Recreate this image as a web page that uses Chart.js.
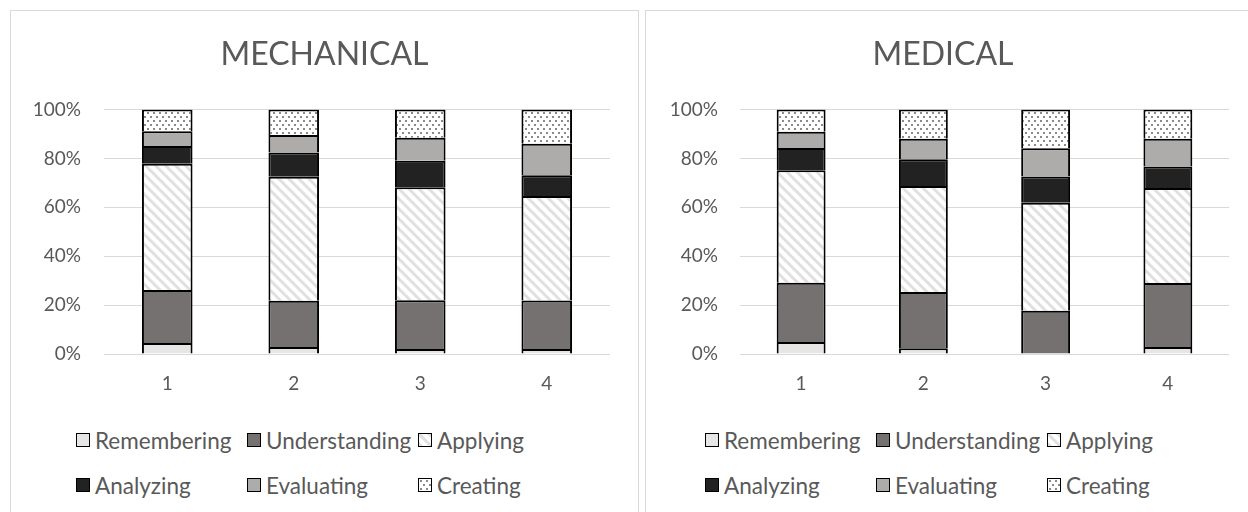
<!DOCTYPE html>
<html><head><meta charset="utf-8">
<script src="https://cdn.jsdelivr.net/npm/chart.js@4.4.1/dist/chart.umd.min.js"></script>
<style>
html,body{margin:0;padding:0;background:#fff;overflow:hidden;width:1248px;height:512px;}
.panel{position:absolute;border:1px solid #d9d9d9;box-sizing:border-box;}
canvas.c{position:absolute;}
.title{position:absolute;top:33px;height:40px;line-height:40px;text-align:center;font-family:Lato,sans-serif;font-size:32px;color:#595959;white-space:nowrap;}
.item{position:absolute;display:flex;align-items:center;white-space:nowrap;font-family:Lato,sans-serif;font-size:22.5px;color:#595959;height:28px;}
.box{width:12px;height:12px;border:1.5px solid #000;margin-right:5px;flex:none;}
</style>
</head><body>
<div class="panel" style="left:10px;top:10px;width:629px;height:530px;"></div>
<div class="panel" style="left:645px;top:10px;width:640px;height:530px;"></div>
<canvas id="c1" class="c" width="627" height="394" style="left:11px;top:11px;"></canvas>
<canvas id="c2" class="c" width="602" height="394" style="left:646px;top:11px;"></canvas>
<div class="title" style="left:11px;width:627px;">MECHANICAL</div>
<div class="title" style="left:646px;width:594px;">MEDICAL</div>
<div id="legends"></div>
<script>
const categories = ['1','2','3','4'];
const seriesNames = ['Remembering','Understanding','Applying','Analyzing','Evaluating','Creating'];
const yTicks = [0,20,40,60,80,100];

// MECHANICAL (percent per category)
const mechRemembering   = [4.5, 2.9, 2.0, 2.0];
const mechUnderstanding = [21.7, 18.9, 20.0, 19.9];
const mechApplying      = [51.6, 50.7, 46.2, 42.7];
const mechAnalyzing     = [7.3, 9.9, 10.8, 8.5];
const mechEvaluating    = [6.0, 7.2, 9.4, 12.9];
const mechCreating      = [8.9, 10.4, 11.6, 14.0];

// MEDICAL (percent per category)
const medRemembering    = [4.9, 2.4, 0.0, 2.9];
const medUnderstanding  = [24.2, 23.0, 17.7, 26.1];
const medApplying       = [46.1, 43.3, 44.2, 38.9];
const medAnalyzing      = [9.1, 11.0, 10.7, 8.8];
const medEvaluating     = [6.6, 8.3, 11.6, 11.3];
const medCreating       = [9.1, 12.0, 15.8, 12.0];

function stripeCanvas(){
  const c=document.createElement('canvas'); c.width=10; c.height=10;
  const x=c.getContext('2d'); x.fillStyle='#fff'; x.fillRect(0,0,10,10);
  x.strokeStyle='#e0e0e0'; x.lineWidth=3;
  for(let k=-10;k<=10;k+=10){ x.beginPath(); x.moveTo(k-2,-2); x.lineTo(k+12,12); x.stroke(); }
  return c;
}
function dotCanvas(){
  const c=document.createElement('canvas'); c.width=6; c.height=8;
  const x=c.getContext('2d'); x.fillStyle='#fff'; x.fillRect(0,0,6,8);
  x.fillStyle='#8a8a8a'; x.fillRect(1,1,2,2); x.fillRect(4,5,2,2);
  return c;
}
const sc=stripeCanvas(), dc=dotCanvas();
const ctx0=document.createElement('canvas').getContext('2d');
const fills=['#e7e6e6','#767171',ctx0.createPattern(sc,'repeat'),'#222222','#aeabab',ctx0.createPattern(dc,'repeat')];
const cssFills=['#e7e6e6','#767171','url('+sc.toDataURL()+')','#222222','#aeabab','url('+dc.toDataURL()+')'];

function makeChart(id,series,padRight,yWidth,yPad){
  return new Chart(document.getElementById(id),{
    type:'bar',
    data:{labels:categories,datasets:series.map((d,i)=>({label:seriesNames[i],data:d,backgroundColor:fills[i],borderColor:'#000',
      borderWidth:{top:2,left:2,right:2,bottom:0},borderSkipped:false,categoryPercentage:1,barPercentage:0.4}))},
    options:{responsive:false,animation:false,devicePixelRatio:1,
      layout:{padding:{left:0,right:padRight,top:98.5,bottom:0}},
      plugins:{legend:{display:false},tooltip:{enabled:false},title:{display:false}},
      scales:{
        x:{stacked:true,grid:{display:false,drawTicks:false},border:{display:false},
           ticks:{color:'#595959',font:{family:'Lato',size:19},padding:18},afterFit:s=>{s.height=51;}},
        y:{stacked:true,min:0,max:100,afterBuildTicks:s=>{s.ticks=yTicks.map(v=>({value:v}));},
           ticks:{callback:v=>v+'%',color:'#595959',font:{family:'Lato',size:19},padding:yPad},
           grid:{color:'#d9d9d9',lineWidth:1,drawTicks:false},border:{display:false},afterFit:s=>{s.width=yWidth;}}
      }}
  });
}
makeChart('c1',[mechRemembering,mechUnderstanding,mechApplying,mechAnalyzing,mechEvaluating,mechCreating],28,93,23);
makeChart('c2',[medRemembering,medUnderstanding,medApplying,medAnalyzing,medEvaluating,medCreating],19,94,22);

// HTML legends in a 3-column grid
function legend(colX,rowY){
  const host=document.getElementById('legends');
  seriesNames.forEach((n,i)=>{
    const d=document.createElement('div'); d.className='item';
    d.style.left=colX[i%3]+'px'; d.style.top=(rowY[Math.floor(i/3)]-14)+'px';
    const b=document.createElement('span'); b.className='box'; b.style.background=cssFills[i];
    const t=document.createElement('span'); t.textContent=n;
    d.appendChild(b); d.appendChild(t); host.appendChild(d);
  });
}
legend([76,247,418],[440,485]);
legend([705,876,1047],[440,485]);
</script>
</body></html>
